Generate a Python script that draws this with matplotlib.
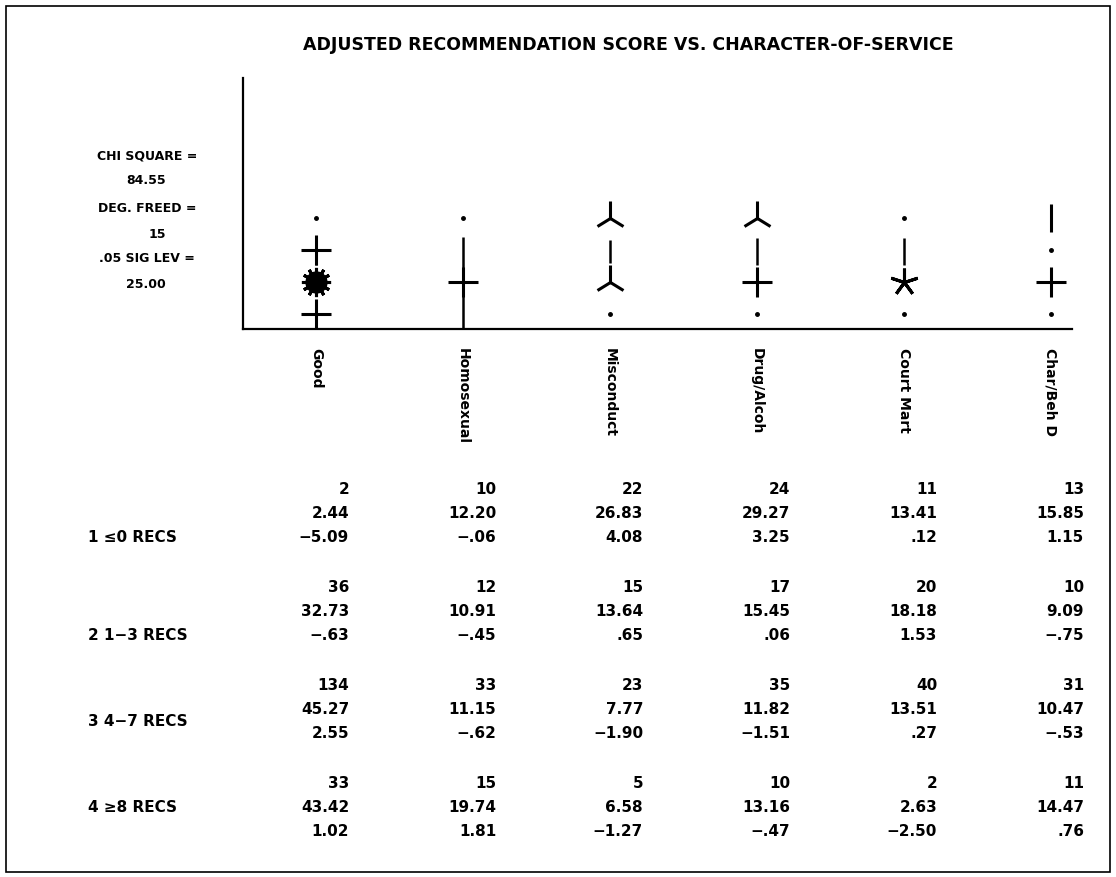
import matplotlib.pyplot as plt
from matplotlib import transforms
from matplotlib.patches import Rectangle

W, H = 1116, 877

title = "ADJUSTED RECOMMENDATION SCORE VS. CHARACTER-OF-SERVICE"
services = ["Good", "Homosexual", "Misconduct", "Drug/Alcoh", "Court Mart", "Char/Beh D"]
row_labels = ["1 \u22640 RECS", "2 1\u22123 RECS", "3 4\u22127 RECS", "4 \u22658 RECS"]
stats_text = ["CHI SQUARE =", "84.55", "DEG. FREED =", "15", ".05 SIG LEV =", "25.00"]

# cell frequency / row percent / standardized residual
counts = [[2, 10, 22, 24, 11, 13],
          [36, 12, 15, 17, 20, 10],
          [134, 33, 23, 35, 40, 31],
          [33, 15, 5, 10, 2, 11]]
row_pct = [[2.44, 12.20, 26.83, 29.27, 13.41, 15.85],
           [32.73, 10.91, 13.64, 15.45, 18.18, 9.09],
           [45.27, 11.15, 7.77, 11.82, 13.51, 10.47],
           [43.42, 19.74, 6.58, 13.16, 2.63, 14.47]]
resid = [[-5.09, -0.06, 4.08, 3.25, 0.12, 1.15],
         [-0.63, -0.45, 0.65, 0.06, 1.53, -0.75],
         [2.55, -0.62, -1.90, -1.51, 0.27, -0.53],
         [1.02, 1.81, -1.27, -0.47, -2.50, 0.76]]

# plot symbols per level (rows) and service (columns)
levels = [1, 2, 3, 4]
symbols = [["dot", "dot", "tri", "tri", "dot", "bar"],
           ["plus", None, None, None, None, "dot"],
           ["burst", "plus", "tri", "plus", "ast", "plus"],
           ["plus", None, "dot", "dot", "dot", "dot"]]
# vertical connecting strokes (service index, from level, to level)
strokes = [(0, 2.16, 2.47), (0, 3.56, 3.81), (0, 4.0, 4.5),
           (1, 1.59, 2.72), (1, 3.25, 4.5),
           (2, 1.69, 2.41), (3, 1.63, 2.47), (4, 1.63, 2.47)]


def fmt(v):
    s = f"{abs(v):.2f}"
    if abs(v) < 1:
        s = s[1:]
    return ("\u2212" if v < 0 else "") + s


fig = plt.figure(figsize=(W / 100, H / 100), dpi=100)
fig.patches.append(Rectangle((6 / W, 1 - 872 / H), 1104 / W, 866 / H,
                             transform=fig.transFigure, fill=False,
                             lw=1.2, ec="black"))

fig.text(628 / W, 1 - 45 / H, title, ha="center", va="center",
         fontsize=12.5, fontweight="bold")

stat_y = [156, 181, 209, 234, 259, 285]
for i, (t, y) in enumerate(zip(stats_text, stat_y)):
    if i % 2 == 0:
        fig.text(147 / W, 1 - y / H, t, ha="center", va="center",
                 fontsize=9, fontweight="bold")
    else:
        fig.text(166 / W, 1 - y / H, t, ha="right", va="center",
                 fontsize=9, fontweight="bold")

ax = fig.add_axes([243 / W, 1 - 329 / H, (1072 - 243) / W, (329 - 78) / H])
ax.set_xlim(-0.497, 5.143)
ax.set_ylim(4.47, -3.375)
for s in ["top", "right"]:
    ax.spines[s].set_visible(False)
for s in ["left", "bottom"]:
    ax.spines[s].set_linewidth(1.6)
ax.set_yticks([])
ax.set_xticks(range(len(services)))
ax.set_xticklabels(services, rotation=270, fontsize=10, fontweight="bold")
ax.tick_params(axis="x", length=0, pad=14)

for j, y0, y1 in strokes:
    ax.plot([j, j], [y0, y1], color="black", lw=1.8, solid_capstyle="butt")

for i, lev in enumerate(levels):
    for j, sym in enumerate(symbols[i]):
        if sym == "dot":
            ax.plot(j, lev, "o", ms=2.5, color="black")
        elif sym == "plus":
            ax.plot(j, lev, "+", ms=21, mew=2.2, color="black")
        elif sym == "tri":
            ax.plot(j, lev, "2", ms=24, mew=2.2, color="black")
        elif sym == "ast":
            ax.plot(j, lev, marker=(5, 2, 0), ms=20, mew=2.2, color="black",
                    ls="none")
        elif sym == "bar":
            ax.plot(j, lev, "|", ms=20, mew=2.2, color="black")
        elif sym == "burst":
            ax.plot(j, lev, "o", ms=15, color="black")
            ax.plot(j, lev, marker=(12, 2, 0), ms=21, mew=2.2, color="black",
                    ls="none")

# table below the plot
trans = transforms.blended_transform_factory(ax.transData, fig.transFigure)
block_top = [490, 588, 686, 784]
line_gap = 24
label_line = [2, 2, 1.5, 1]
for r in range(4):
    ys = [block_top[r] + k * line_gap for k in range(3)]
    fig.text(88 / W, 1 - (block_top[r] + label_line[r] * line_gap) / H,
             row_labels[r], ha="left", va="center", fontsize=11,
             fontweight="bold")
    for j in range(len(services)):
        vals = [str(counts[r][j]), f"{row_pct[r][j]:.2f}", fmt(resid[r][j])]
        for v, y in zip(vals, ys):
            ax.text(j + 0.225, 1 - y / H, v, transform=trans, ha="right",
                    va="center", fontsize=11, fontweight="bold")

fig.savefig("out.png", dpi=100)
